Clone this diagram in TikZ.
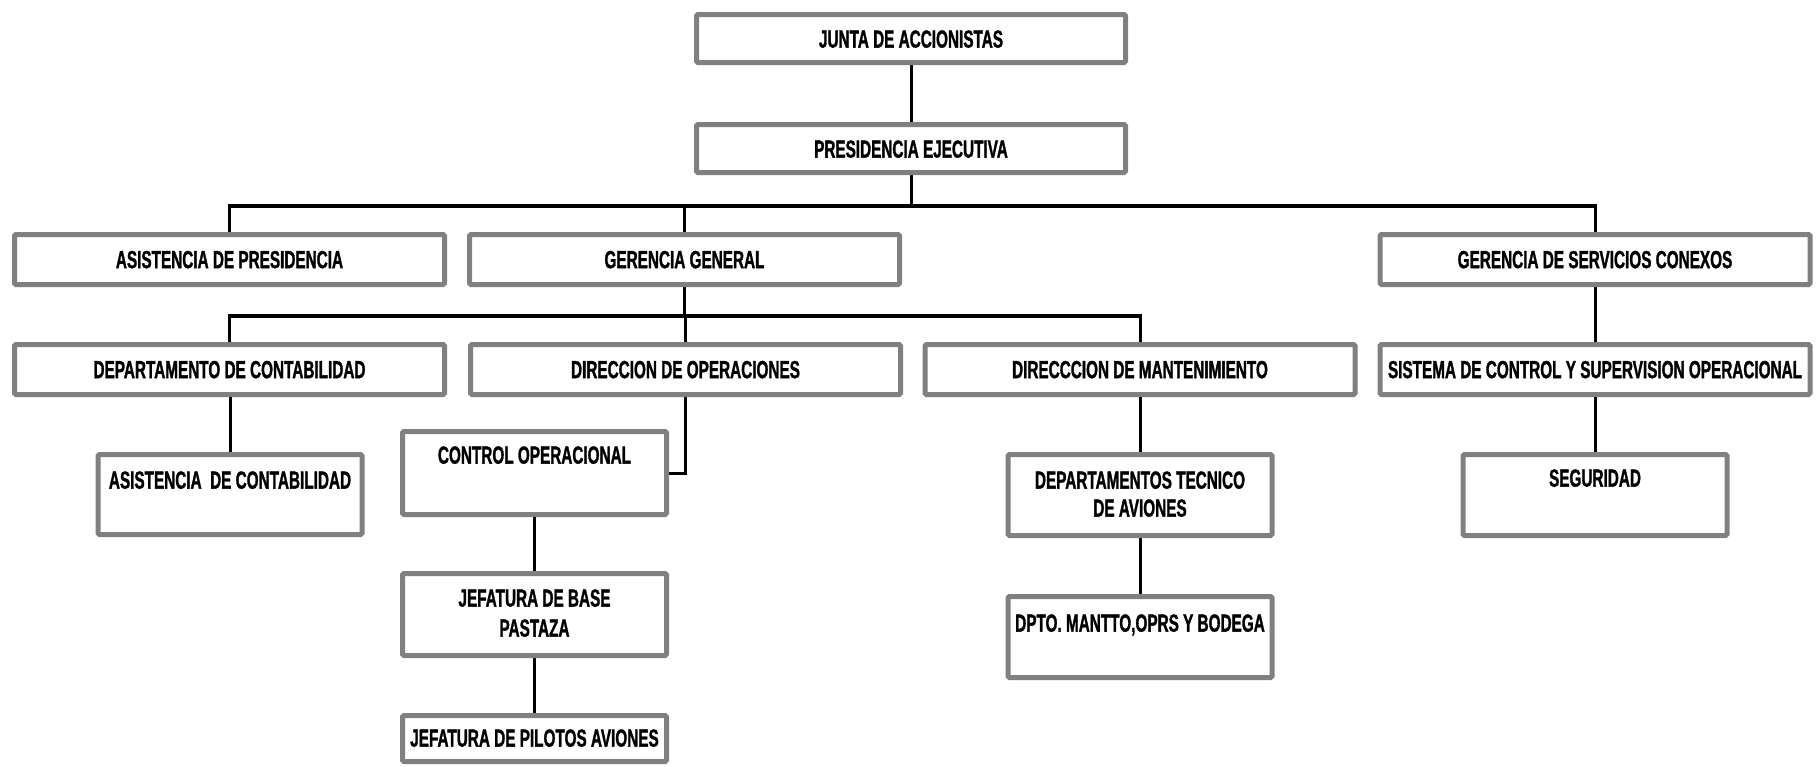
\documentclass[tikz,border=0pt]{standalone}
\usepackage{fontspec}
\setmainfont{Liberation Sans}[FakeStretch=0.62, BoldFeatures={FakeBold=1.2}]
\usetikzlibrary{backgrounds}
\definecolor{boxgray}{RGB}{128,128,128}
\tikzset{
  box/.style={draw=boxgray, line width=5pt, rounded corners=1.5pt, fill=white,
              inner sep=0pt, minimum height=50pt},
  wide/.style={box, minimum width=430pt},
  narrow/.style={box, minimum width=264pt},
  txt/.style={font=\fontsize{24.7}{30}\selectfont\bfseries, inner sep=0pt,
              text depth=0pt, align=center},
  conn/.style={draw=black, line width=3pt},
  bus/.style={draw=black, line width=3.6pt, line cap=rect},
}
\begin{document}
\begin{tikzpicture}[x=1pt, y=-1pt]
\useasboundingbox (0,0) rectangle (1819,766);

% top of the chart
\node[wide, minimum width=429pt, minimum height=48pt] (junta) at (911,38.5) {};
\node[txt] (junta-t) at (911,39) {JUNTA DE ACCIONISTAS};
\node[wide, minimum width=429pt, minimum height=48pt] (pres) at (911,148.5) {};
\node[txt] (pres-t) at (911,149) {PRESIDENCIA EJECUTIVA};

% second level
\node[wide] (asispres) at (229.5,259.5) {};
\node[txt] (asispres-t) at (229.5,259.5) {ASISTENCIA DE PRESIDENCIA};
\node[wide] (gg) at (684.5,259.5) {};
\node[txt] (gg-t) at (684.5,259.5) {GERENCIA GENERAL};
\node[wide] (gsc) at (1595,259.5) {};
\node[txt] (gsc-t) at (1595,259.5) {GERENCIA DE SERVICIOS CONEXOS};

% third level
\node[wide] (dcont) at (229.5,369.5) {};
\node[txt] (dcont-t) at (229.5,369.5) {DEPARTAMENTO DE CONTABILIDAD};
\node[wide] (dops) at (685.5,369.5) {};
\node[txt] (dops-t) at (685.5,369.5) {DIRECCION DE OPERACIONES};
\node[wide] (dmant) at (1140,369.5) {};
\node[txt] (dmant-t) at (1140,369.5) {DIRECCCION DE MANTENIMIENTO};
\node[wide] (scso) at (1595,369.5) {};
\node[txt] (scso-t) at (1595,369.5) {SISTEMA DE CONTROL Y SUPERVISION OPERACIONAL};

% lower units
\node[narrow, minimum height=80pt] (asiscont) at (230,494.5) {};
\node[txt] (asiscont-t) at (230,480) {ASISTENCIA~~DE CONTABILIDAD};
\node[narrow, minimum height=83pt] (ctrlop) at (534.5,473) {};
\node[txt] (ctrlop-t) at (534.5,455) {CONTROL OPERACIONAL};
\node[narrow, minimum height=82pt] (jefbase) at (534.5,614.5) {};
\node[txt] (jefbase-t) at (534.5,613) {JEFATURA DE BASE\\PASTAZA};
\node[narrow, minimum height=46pt] (jefpil) at (534.5,738.5) {};
\node[txt] (jefpil-t) at (534.5,738) {JEFATURA DE PILOTOS AVIONES};
\node[narrow, minimum height=81pt] (dtec) at (1140,495) {};
\node[txt] (dtec-t) at (1140,494) {DEPARTAMENTOS TECNICO\\[-2pt]DE AVIONES};
\node[narrow, minimum height=81pt] (dmantto) at (1140,637) {};
\node[txt] (dmantto-t) at (1140,623) {DPTO. MANTTO,OPRS Y BODEGA};
\node[narrow, minimum height=81pt] (seg) at (1595,495) {};
\node[txt] (seg-t) at (1595,478) {SEGURIDAD};

% connectors
\coordinate (bus1) at (911,206);
\coordinate (bus2) at (684.5,316);
\begin{scope}[on background layer]
  \draw[conn] (junta.south) -- (pres.north);
  \draw[conn] (pres.south) -- (bus1);
  \draw[bus] (asispres.north |- bus1) -- (gsc.north |- bus1);
  \draw[conn] (asispres.north |- bus1) -- (asispres.north);
  \draw[conn] (gg.north |- bus1) -- (gg.north);
  \draw[conn] (gsc.north |- bus1) -- (gsc.north);
  \draw[conn] (gg.south) -- (bus2);
  \draw[bus] (dcont.north |- bus2) -- (dmant.north |- bus2);
  \draw[conn] (dcont.north |- bus2) -- (dcont.north);
  \draw[conn] (dops.north |- bus2) -- (dops.north);
  \draw[conn] (dmant.north |- bus2) -- (dmant.north);
  \draw[conn] (gsc.south) -- (scso.north);
  \draw[conn] (dcont.south -| asiscont.north) -- (asiscont.north);
  \draw[conn] (dops.south) |- (ctrlop.east);
  \draw[conn] (ctrlop.south) -- (jefbase.north);
  \draw[conn] (jefbase.south) -- (jefpil.north);
  \draw[conn] (dmant.south) -- (dtec.north);
  \draw[conn] (dtec.south) -- (dmantto.north);
  \draw[conn] (scso.south) -- (seg.north);
\end{scope}
\end{tikzpicture}
\end{document}
